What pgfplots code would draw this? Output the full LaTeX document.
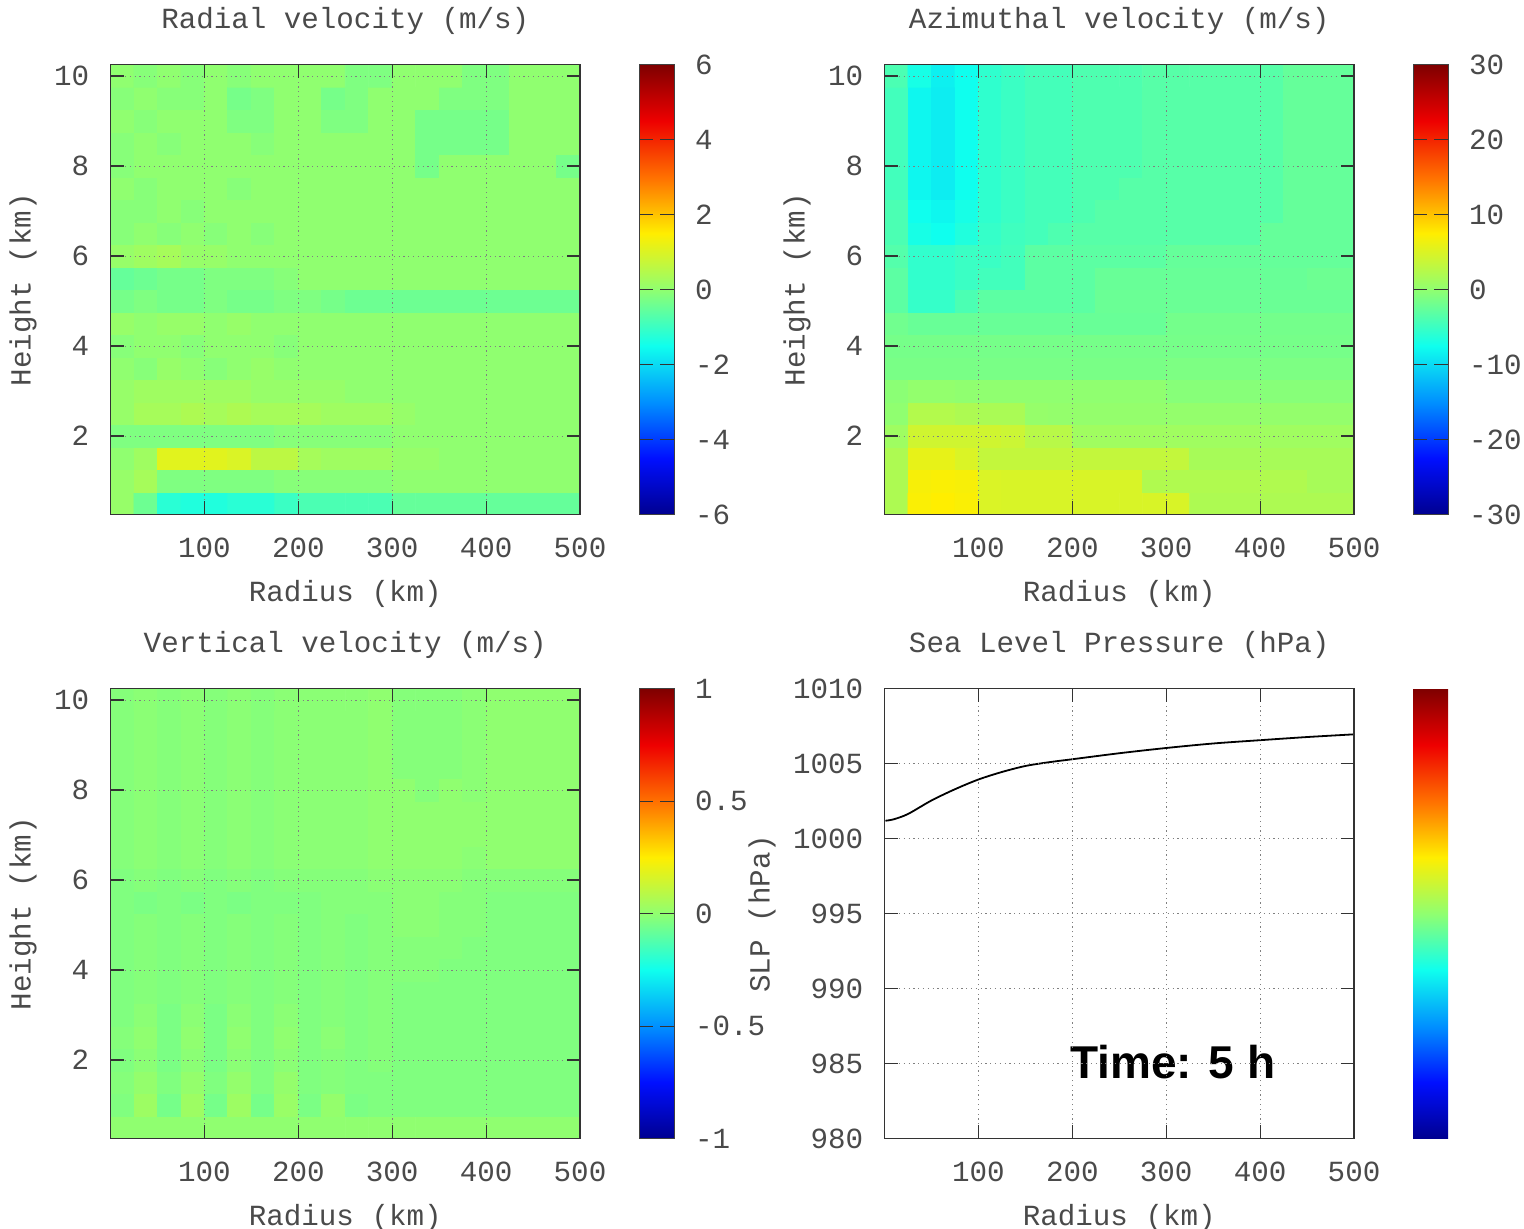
\documentclass[border=0pt]{standalone}
\usepackage{fontspec}
\setmainfont{Liberation Mono}
\newfontfamily\timefont{Liberation Sans}
\usepackage{pgfplots}
\pgfplotsset{compat=1.18}

\newcommand{\gfont}{\fontsize{14.6}{17}\selectfont}
\definecolor{txt}{HTML}{4A4A4A}

\pgfplotsset{
  colorbar/width=17.5pt,
  gnujet/.style={colormap={gnujet}{rgb255=(0,0,144) rgb255=(0,15,255) rgb255=(0,144,255)
    rgb255=(15,255,238) rgb255=(144,255,112) rgb255=(255,238,0) rgb255=(255,112,0)
    rgb255=(238,0,0) rgb255=(127,0,0)}},
  panel/.style={
    gnujet, scale only axis, width=234.75pt, height=225pt,
    anchor=south west, axis on top,
    xmin=0, xmax=500, xtick={100,200,300,400,500}, xticklabels={100,200,300,400,500},
    tick align=inside, xtick pos=both, ytick pos=both, major tick length=6.7pt,
    tick style={black!80, line width=0.6pt},
    axis line style={black!80, line width=0.6pt},
    grid=major, grid style={black!50, line width=0.45pt, dash pattern=on 0.6pt off 1.8pt},
    tick label style={font=\gfont, text=txt, inner sep=0pt},
    xticklabel style={anchor=center, yshift=-16.4pt},
    yticklabel style={anchor=east, xshift=-10.5pt},
    label style={font=\gfont, text=txt},
    title style={font=\gfont, text=txt, at={(axis description cs:0.5,1.0713)}, anchor=center},
    xlabel style={at={(axis description cs:0.5,-0.176)}, anchor=center},
    ylabel style={at={(axis description cs:-0.1864,0.5)}, anchor=center},
    xlabel={Radius (km)},
  },
  cbar/.style={
    at={(parent axis.north east)}, anchor=north west, xshift=21pt,
    scale only axis, width=17.5pt, height=225pt,
    enlargelimits=false, xmin=0, xmax=1,
    tick align=inside, ytick pos=both, yticklabel pos=right,
    major tick length=7pt, tick style={black!80, line width=0.6pt},
    axis line style={black!75, line width=0.5pt},
    yticklabel style={font=\gfont, text=txt, inner sep=0pt, anchor=west, xshift=10.3pt},
  },
  heat/.style={
    panel, ymin=0.25, ymax=10.25, ytick={2,4,6,8,10}, yticklabels={2,4,6,8,10},
    ylabel={Height (km)}, colorbar,
  },
}

\begin{document}
\begin{tikzpicture}
\path[use as bounding box] (0,0) rectangle (762pt,614.5pt);

% Radial velocity
\begin{axis}[heat, at={(55.25pt,357.125pt)}, title={Radial velocity (m/s)},
  point meta min=-6, point meta max=6,
  colorbar style={cbar, ytick={-6,-4,-2,0,2,4,6}, yticklabels={-6,-4,-2,0,2,4,6}}]
\addplot[matrix plot*, mesh/cols=20, point meta=explicit] coordinates {
(12.5,0.5)[0.1] (37.5,0.5)[-0.4] (62.5,0.5)[-1.2] (87.5,0.5)[-1.3] (112.5,0.5)[-1.3] (137.5,0.5)[-1.2] (162.5,0.5)[-1.2] (187.5,0.5)[-1.0] (212.5,0.5)[-0.8] (237.5,0.5)[-0.8] (262.5,0.5)[-0.8] (287.5,0.5)[-0.8] (312.5,0.5)[-0.5] (337.5,0.5)[-0.5] (362.5,0.5)[-0.5] (387.5,0.5)[-0.5] (412.5,0.5)[-0.5] (437.5,0.5)[-0.5] (462.5,0.5)[-0.5] (487.5,0.5)[-0.5]
(12.5,1)[0.1] (37.5,1)[0.3] (62.5,1)[-0.2] (87.5,1)[-0.2] (112.5,1)[-0.2] (137.5,1)[-0.2] (162.5,1)[-0.2] (187.5,1)[-0.1] (212.5,1)[-0.1] (237.5,1)[-0.1] (262.5,1)[-0.1] (287.5,1)[-0.1] (312.5,1)[0] (337.5,1)[0] (362.5,1)[0] (387.5,1)[0] (412.5,1)[0] (437.5,1)[0] (462.5,1)[0] (487.5,1)[0]
(12.5,1.5)[0] (37.5,1.5)[0.2] (62.5,1.5)[1.1] (87.5,1.5)[1.1] (112.5,1.5)[1.1] (137.5,1.5)[1.0] (162.5,1.5)[0.6] (187.5,1.5)[0.6] (212.5,1.5)[0.3] (237.5,1.5)[0.2] (262.5,1.5)[0.2] (287.5,1.5)[0.2] (312.5,1.5)[0.1] (337.5,1.5)[0.1] (362.5,1.5)[0] (387.5,1.5)[0] (412.5,1.5)[0] (437.5,1.5)[0] (462.5,1.5)[0] (487.5,1.5)[0]
(12.5,2)[-0.2] (37.5,2)[-0.2] (62.5,2)[-0.2] (87.5,2)[-0.2] (112.5,2)[-0.2] (137.5,2)[-0.2] (162.5,2)[-0.2] (187.5,2)[-0.1] (212.5,2)[-0.1] (237.5,2)[-0.1] (262.5,2)[-0.1] (287.5,2)[-0.1] (312.5,2)[0] (337.5,2)[0] (362.5,2)[0] (387.5,2)[0] (412.5,2)[0] (437.5,2)[0] (462.5,2)[0] (487.5,2)[0]
(12.5,2.5)[0.1] (37.5,2.5)[0.3] (62.5,2.5)[0.3] (87.5,2.5)[0.4] (112.5,2.5)[0.3] (137.5,2.5)[0.4] (162.5,2.5)[0.3] (187.5,2.5)[0.3] (212.5,2.5)[0.3] (237.5,2.5)[0.2] (262.5,2.5)[0.2] (287.5,2.5)[0.2] (312.5,2.5)[0.1] (337.5,2.5)[0] (362.5,2.5)[0] (387.5,2.5)[0] (412.5,2.5)[0] (437.5,2.5)[0] (462.5,2.5)[0] (487.5,2.5)[0]
(12.5,3)[0.1] (37.5,3)[0.2] (62.5,3)[0.2] (87.5,3)[0.2] (112.5,3)[0.2] (137.5,3)[0.2] (162.5,3)[0.1] (187.5,3)[0.1] (212.5,3)[0.1] (237.5,3)[0.1] (262.5,3)[0] (287.5,3)[0] (312.5,3)[0] (337.5,3)[0] (362.5,3)[0] (387.5,3)[0] (412.5,3)[0] (437.5,3)[0] (462.5,3)[0] (487.5,3)[0]
(12.5,3.5)[0] (37.5,3.5)[-0.1] (62.5,3.5)[0.1] (87.5,3.5)[0] (112.5,3.5)[-0.1] (137.5,3.5)[0] (162.5,3.5)[0.1] (187.5,3.5)[0] (212.5,3.5)[0] (237.5,3.5)[0] (262.5,3.5)[0] (287.5,3.5)[0] (312.5,3.5)[0] (337.5,3.5)[0] (362.5,3.5)[0] (387.5,3.5)[0] (412.5,3.5)[0] (437.5,3.5)[0] (462.5,3.5)[0] (487.5,3.5)[0]
(12.5,4)[-0.1] (37.5,4)[0] (62.5,4)[0] (87.5,4)[-0.1] (112.5,4)[0] (137.5,4)[0] (162.5,4)[0] (187.5,4)[-0.1] (212.5,4)[0] (237.5,4)[0] (262.5,4)[0] (287.5,4)[0] (312.5,4)[0] (337.5,4)[0] (362.5,4)[0] (387.5,4)[0] (412.5,4)[0] (437.5,4)[0] (462.5,4)[0] (487.5,4)[0]
(12.5,4.5)[0.1] (37.5,4.5)[0] (62.5,4.5)[0.1] (87.5,4.5)[0.1] (112.5,4.5)[0] (137.5,4.5)[0.1] (162.5,4.5)[0] (187.5,4.5)[0] (212.5,4.5)[0] (237.5,4.5)[0] (262.5,4.5)[0] (287.5,4.5)[0] (312.5,4.5)[0] (337.5,4.5)[0] (362.5,4.5)[0] (387.5,4.5)[0] (412.5,4.5)[0] (437.5,4.5)[0] (462.5,4.5)[0] (487.5,4.5)[0]
(12.5,5)[-0.3] (37.5,5)[-0.2] (62.5,5)[-0.3] (87.5,5)[-0.3] (112.5,5)[-0.2] (137.5,5)[-0.3] (162.5,5)[-0.3] (187.5,5)[-0.2] (212.5,5)[-0.2] (237.5,5)[-0.3] (262.5,5)[-0.4] (287.5,5)[-0.4] (312.5,5)[-0.4] (337.5,5)[-0.4] (362.5,5)[-0.4] (387.5,5)[-0.4] (412.5,5)[-0.4] (437.5,5)[-0.4] (462.5,5)[-0.4] (487.5,5)[-0.4]
(12.5,5.5)[-0.5] (37.5,5.5)[-0.4] (62.5,5.5)[-0.3] (87.5,5.5)[-0.3] (112.5,5.5)[-0.2] (137.5,5.5)[-0.2] (162.5,5.5)[-0.2] (187.5,5.5)[-0.1] (212.5,5.5)[0] (237.5,5.5)[0] (262.5,5.5)[0] (287.5,5.5)[0] (312.5,5.5)[0] (337.5,5.5)[0] (362.5,5.5)[0] (387.5,5.5)[0] (412.5,5.5)[0] (437.5,5.5)[0] (462.5,5.5)[0] (487.5,5.5)[0]
(12.5,6)[0.1] (37.5,6)[0.2] (62.5,6)[0.3] (87.5,6)[0.1] (112.5,6)[0.1] (137.5,6)[0] (162.5,6)[0] (187.5,6)[0] (212.5,6)[0] (237.5,6)[0] (262.5,6)[0] (287.5,6)[0] (312.5,6)[0] (337.5,6)[0] (362.5,6)[0] (387.5,6)[0] (412.5,6)[0] (437.5,6)[0] (462.5,6)[0] (487.5,6)[0]
(12.5,6.5)[-0.1] (37.5,6.5)[0] (62.5,6.5)[-0.1] (87.5,6.5)[0] (112.5,6.5)[-0.1] (137.5,6.5)[0] (162.5,6.5)[-0.1] (187.5,6.5)[0] (212.5,6.5)[0] (237.5,6.5)[0] (262.5,6.5)[0] (287.5,6.5)[0] (312.5,6.5)[0] (337.5,6.5)[0] (362.5,6.5)[0] (387.5,6.5)[0] (412.5,6.5)[0] (437.5,6.5)[0] (462.5,6.5)[0] (487.5,6.5)[0]
(12.5,7)[-0.1] (37.5,7)[-0.1] (62.5,7)[0] (87.5,7)[-0.1] (112.5,7)[0] (137.5,7)[0] (162.5,7)[0] (187.5,7)[0] (212.5,7)[0] (237.5,7)[0] (262.5,7)[0] (287.5,7)[0] (312.5,7)[0] (337.5,7)[0] (362.5,7)[0] (387.5,7)[0] (412.5,7)[0] (437.5,7)[0] (462.5,7)[0] (487.5,7)[0]
(12.5,7.5)[0] (37.5,7.5)[-0.1] (62.5,7.5)[0] (87.5,7.5)[0] (112.5,7.5)[0] (137.5,7.5)[-0.1] (162.5,7.5)[0] (187.5,7.5)[0] (212.5,7.5)[0] (237.5,7.5)[0] (262.5,7.5)[0] (287.5,7.5)[0] (312.5,7.5)[0] (337.5,7.5)[0] (362.5,7.5)[0] (387.5,7.5)[0] (412.5,7.5)[0] (437.5,7.5)[0] (462.5,7.5)[0] (487.5,7.5)[0]
(12.5,8)[-0.1] (37.5,8)[0] (62.5,8)[0] (87.5,8)[0] (112.5,8)[0] (137.5,8)[0] (162.5,8)[0] (187.5,8)[0] (212.5,8)[0] (237.5,8)[0] (262.5,8)[0] (287.5,8)[0] (312.5,8)[0] (337.5,8)[-0.3] (362.5,8)[0] (387.5,8)[0] (412.5,8)[0] (437.5,8)[0] (462.5,8)[0] (487.5,8)[-0.3]
(12.5,8.5)[-0.1] (37.5,8.5)[0] (62.5,8.5)[-0.1] (87.5,8.5)[0] (112.5,8.5)[0] (137.5,8.5)[0] (162.5,8.5)[-0.1] (187.5,8.5)[0] (212.5,8.5)[0] (237.5,8.5)[0] (262.5,8.5)[0] (287.5,8.5)[0] (312.5,8.5)[0] (337.5,8.5)[-0.3] (362.5,8.5)[-0.3] (387.5,8.5)[-0.3] (412.5,8.5)[-0.3] (437.5,8.5)[0] (462.5,8.5)[0] (487.5,8.5)[0]
(12.5,9)[0] (37.5,9)[-0.1] (62.5,9)[0] (87.5,9)[0] (112.5,9)[0] (137.5,9)[-0.2] (162.5,9)[-0.2] (187.5,9)[0] (212.5,9)[0] (237.5,9)[-0.2] (262.5,9)[-0.2] (287.5,9)[0] (312.5,9)[0] (337.5,9)[-0.3] (362.5,9)[-0.3] (387.5,9)[-0.3] (412.5,9)[-0.3] (437.5,9)[0] (462.5,9)[0] (487.5,9)[0]
(12.5,9.5)[-0.1] (37.5,9.5)[0] (62.5,9.5)[-0.1] (87.5,9.5)[-0.1] (112.5,9.5)[0] (137.5,9.5)[-0.3] (162.5,9.5)[-0.2] (187.5,9.5)[0] (212.5,9.5)[0] (237.5,9.5)[-0.3] (262.5,9.5)[-0.2] (287.5,9.5)[0] (312.5,9.5)[0] (337.5,9.5)[0] (362.5,9.5)[-0.2] (387.5,9.5)[-0.2] (412.5,9.5)[-0.2] (437.5,9.5)[0] (462.5,9.5)[0] (487.5,9.5)[0]
(12.5,10)[0] (37.5,10)[-0.1] (62.5,10)[0] (87.5,10)[-0.1] (112.5,10)[0] (137.5,10)[-0.1] (162.5,10)[0] (187.5,10)[0] (212.5,10)[0] (237.5,10)[0] (262.5,10)[-0.2] (287.5,10)[-0.2] (312.5,10)[0] (337.5,10)[0] (362.5,10)[0] (387.5,10)[-0.2] (412.5,10)[-0.2] (437.5,10)[0] (462.5,10)[0] (487.5,10)[0]
};
\end{axis}

% Azimuthal velocity
\begin{axis}[heat, at={(442.25pt,357.125pt)}, title={Azimuthal velocity (m/s)},
  point meta min=-30, point meta max=30,
  colorbar style={cbar, ytick={-30,-20,-10,0,10,20,30}, yticklabels={-30,-20,-10,0,10,20,30}}]
\addplot[matrix plot*, mesh/cols=20, point meta=explicit] coordinates {
(12.5,0.5)[2] (37.5,0.5)[7.2] (62.5,0.5)[7.5] (87.5,0.5)[7.2] (112.5,0.5)[5] (137.5,0.5)[4.9] (162.5,0.5)[4.9] (187.5,0.5)[4.9] (212.5,0.5)[4.9] (237.5,0.5)[4.9] (262.5,0.5)[4.9] (287.5,0.5)[4.9] (312.5,0.5)[4.9] (337.5,0.5)[2] (362.5,0.5)[2] (387.5,0.5)[2] (412.5,0.5)[2] (437.5,0.5)[2] (462.5,0.5)[2] (487.5,0.5)[2]
(12.5,1)[2] (37.5,1)[7] (62.5,1)[7.2] (87.5,1)[7] (112.5,1)[5] (137.5,1)[4.9] (162.5,1)[4.9] (187.5,1)[4.9] (212.5,1)[4.9] (237.5,1)[4.9] (262.5,1)[4.9] (287.5,1)[2.2] (312.5,1)[2.2] (337.5,1)[2.2] (362.5,1)[2.2] (387.5,1)[2.2] (412.5,1)[2.2] (437.5,1)[2.2] (462.5,1)[1.6] (487.5,1)[1.6]
(12.5,1.5)[2] (37.5,1.5)[5.9] (62.5,1.5)[5.9] (87.5,1.5)[5] (112.5,1.5)[3.5] (137.5,1.5)[3.5] (162.5,1.5)[3.5] (187.5,1.5)[3.5] (212.5,1.5)[3.5] (237.5,1.5)[3.5] (262.5,1.5)[3.5] (287.5,1.5)[3.5] (312.5,1.5)[3.5] (337.5,1.5)[1.6] (362.5,1.5)[1.6] (387.5,1.5)[1.6] (412.5,1.5)[1.6] (437.5,1.5)[1.6] (462.5,1.5)[1.6] (487.5,1.5)[1.6]
(12.5,2)[1] (37.5,2)[4.3] (62.5,2)[4.3] (87.5,2)[4.3] (112.5,2)[4.3] (137.5,2)[4] (162.5,2)[2.7] (187.5,2)[2.7] (212.5,2)[1.1] (237.5,2)[1.1] (262.5,2)[1.1] (287.5,2)[1.1] (312.5,2)[1.1] (337.5,2)[1.1] (362.5,2)[1.1] (387.5,2)[1.1] (412.5,2)[1.1] (437.5,2)[1.1] (462.5,2)[1.1] (487.5,2)[1.1]
(12.5,2.5)[0] (37.5,2.5)[2.4] (62.5,2.5)[2.4] (87.5,2.5)[2] (112.5,2.5)[1.8] (137.5,2.5)[1.8] (162.5,2.5)[0.4] (187.5,2.5)[0.3] (212.5,2.5)[0.3] (237.5,2.5)[0.3] (262.5,2.5)[0.3] (287.5,2.5)[0.3] (312.5,2.5)[0.3] (337.5,2.5)[0.3] (362.5,2.5)[0.3] (387.5,2.5)[0.3] (412.5,2.5)[0.3] (437.5,2.5)[0.3] (462.5,2.5)[0.3] (487.5,2.5)[0.3]
(12.5,3)[-0.3] (37.5,3)[0.2] (62.5,3)[0.2] (87.5,3)[0] (112.5,3)[0] (137.5,3)[0] (162.5,3)[0] (187.5,3)[0] (212.5,3)[0] (237.5,3)[0] (262.5,3)[0] (287.5,3)[0] (312.5,3)[-0.5] (337.5,3)[-0.5] (362.5,3)[-0.5] (387.5,3)[-0.5] (412.5,3)[-0.5] (437.5,3)[-0.5] (462.5,3)[-0.5] (487.5,3)[-0.5]
(12.5,3.5)[-1.3] (37.5,3.5)[-1.3] (62.5,3.5)[-1.3] (87.5,3.5)[-1.3] (112.5,3.5)[-1.3] (137.5,3.5)[-1.3] (162.5,3.5)[-1.3] (187.5,3.5)[-1.3] (212.5,3.5)[-1.3] (237.5,3.5)[-1.3] (262.5,3.5)[-1.3] (287.5,3.5)[-1.3] (312.5,3.5)[-1.1] (337.5,3.5)[-1.1] (362.5,3.5)[-1.1] (387.5,3.5)[-1.1] (412.5,3.5)[-1.1] (437.5,3.5)[-1.1] (462.5,3.5)[-1.1] (487.5,3.5)[-1.1]
(12.5,4)[-1.5] (37.5,4)[-1.5] (62.5,4)[-1.5] (87.5,4)[-1.5] (112.5,4)[-1.5] (137.5,4)[-1.5] (162.5,4)[-1.5] (187.5,4)[-1.5] (212.5,4)[-1.5] (237.5,4)[-1.5] (262.5,4)[-1.5] (287.5,4)[-1.5] (312.5,4)[-1.5] (337.5,4)[-1.5] (362.5,4)[-1.5] (387.5,4)[-1.5] (412.5,4)[-1.5] (437.5,4)[-1.5] (462.5,4)[-1.5] (487.5,4)[-1.5]
(12.5,4.5)[-1.8] (37.5,4.5)[-2.3] (62.5,4.5)[-2.3] (87.5,4.5)[-2.3] (112.5,4.5)[-2.3] (137.5,4.5)[-2.3] (162.5,4.5)[-2.3] (187.5,4.5)[-2.3] (212.5,4.5)[-2.3] (237.5,4.5)[-2.3] (262.5,4.5)[-2.3] (287.5,4.5)[-2.3] (312.5,4.5)[-1.6] (337.5,4.5)[-1.6] (362.5,4.5)[-1.6] (387.5,4.5)[-1.6] (412.5,4.5)[-1.6] (437.5,4.5)[-1.6] (462.5,4.5)[-1.6] (487.5,4.5)[-1.6]
(12.5,5)[-3] (37.5,5)[-5.3] (62.5,5)[-5.3] (87.5,5)[-4] (112.5,5)[-3] (137.5,5)[-3] (162.5,5)[-3] (187.5,5)[-3] (212.5,5)[-3] (237.5,5)[-2.2] (262.5,5)[-2.2] (287.5,5)[-2.2] (312.5,5)[-2.2] (337.5,5)[-2.2] (362.5,5)[-2.2] (387.5,5)[-2.2] (412.5,5)[-2.2] (437.5,5)[-2.2] (462.5,5)[-2.2] (487.5,5)[-2.2]
(12.5,5.5)[-3] (37.5,5.5)[-5.5] (62.5,5.5)[-5.5] (87.5,5.5)[-5] (112.5,5.5)[-4.5] (137.5,5.5)[-4.5] (162.5,5.5)[-3] (187.5,5.5)[-3] (212.5,5.5)[-3] (237.5,5.5)[-2.3] (262.5,5.5)[-2.3] (287.5,5.5)[-2.3] (312.5,5.5)[-2.3] (337.5,5.5)[-2.3] (362.5,5.5)[-2.3] (387.5,5.5)[-2.3] (412.5,5.5)[-2.3] (437.5,5.5)[-2.3] (462.5,5.5)[-2] (487.5,5.5)[-2]
(12.5,6)[-3.5] (37.5,6)[-5.5] (62.5,6)[-5.5] (87.5,6)[-5] (112.5,6)[-5] (137.5,6)[-4.5] (162.5,6)[-3] (187.5,6)[-3] (212.5,6)[-3] (237.5,6)[-3] (262.5,6)[-3] (287.5,6)[-3] (312.5,6)[-2.5] (337.5,6)[-2.5] (362.5,6)[-2.5] (387.5,6)[-2.5] (412.5,6)[-2.5] (437.5,6)[-2.5] (462.5,6)[-2.5] (487.5,6)[-2.5]
(12.5,6.5)[-4] (37.5,6.5)[-7] (62.5,6.5)[-7.5] (87.5,6.5)[-6.5] (112.5,6.5)[-5.3] (137.5,6.5)[-4.7] (162.5,6.5)[-4.4] (187.5,6.5)[-3.8] (212.5,6.5)[-3.3] (237.5,6.5)[-3.3] (262.5,6.5)[-3.3] (287.5,6.5)[-3.3] (312.5,6.5)[-3.3] (337.5,6.5)[-3.3] (362.5,6.5)[-3.3] (387.5,6.5)[-3.3] (412.5,6.5)[-2.5] (437.5,6.5)[-2.5] (462.5,6.5)[-2.5] (487.5,6.5)[-2.5]
(12.5,7)[-4] (37.5,7)[-7.5] (62.5,7)[-8] (87.5,7)[-7] (112.5,7)[-5.6] (137.5,7)[-5] (162.5,7)[-4.4] (187.5,7)[-4.4] (212.5,7)[-3.8] (237.5,7)[-3.3] (262.5,7)[-3.3] (287.5,7)[-3.3] (312.5,7)[-3.3] (337.5,7)[-3.3] (362.5,7)[-3.3] (387.5,7)[-3.3] (412.5,7)[-3.3] (437.5,7)[-2.5] (462.5,7)[-2.5] (487.5,7)[-2.5]
(12.5,7.5)[-4.5] (37.5,7.5)[-8] (62.5,7.5)[-8.7] (87.5,7.5)[-7.5] (112.5,7.5)[-5.6] (137.5,7.5)[-5] (162.5,7.5)[-4.4] (187.5,7.5)[-4.4] (212.5,7.5)[-3.8] (237.5,7.5)[-3.8] (262.5,7.5)[-3.3] (287.5,7.5)[-3.3] (312.5,7.5)[-3.3] (337.5,7.5)[-3.3] (362.5,7.5)[-3.3] (387.5,7.5)[-3.3] (412.5,7.5)[-3.3] (437.5,7.5)[-2.5] (462.5,7.5)[-2.5] (487.5,7.5)[-2.5]
(12.5,8)[-4.5] (37.5,8)[-8] (62.5,8)[-8.7] (87.5,8)[-7.5] (112.5,8)[-5.6] (137.5,8)[-5] (162.5,8)[-4.4] (187.5,8)[-4.4] (212.5,8)[-3.8] (237.5,8)[-3.8] (262.5,8)[-3.8] (287.5,8)[-3.3] (312.5,8)[-3.3] (337.5,8)[-3.3] (362.5,8)[-3.3] (387.5,8)[-3.3] (412.5,8)[-3.3] (437.5,8)[-2.5] (462.5,8)[-2.5] (487.5,8)[-2.5]
(12.5,8.5)[-4.5] (37.5,8.5)[-8] (62.5,8.5)[-8.7] (87.5,8.5)[-7.5] (112.5,8.5)[-5.6] (137.5,8.5)[-5] (162.5,8.5)[-4.4] (187.5,8.5)[-4.4] (212.5,8.5)[-3.8] (237.5,8.5)[-3.8] (262.5,8.5)[-3.8] (287.5,8.5)[-3.3] (312.5,8.5)[-3.3] (337.5,8.5)[-3.3] (362.5,8.5)[-3.3] (387.5,8.5)[-3.3] (412.5,8.5)[-3.3] (437.5,8.5)[-2.5] (462.5,8.5)[-2.5] (487.5,8.5)[-2.5]
(12.5,9)[-4.5] (37.5,9)[-8] (62.5,9)[-8.7] (87.5,9)[-7.5] (112.5,9)[-5.6] (137.5,9)[-5] (162.5,9)[-4.4] (187.5,9)[-4.4] (212.5,9)[-3.8] (237.5,9)[-3.8] (262.5,9)[-3.8] (287.5,9)[-3.3] (312.5,9)[-3.3] (337.5,9)[-3.3] (362.5,9)[-3.3] (387.5,9)[-3.3] (412.5,9)[-3.3] (437.5,9)[-2.5] (462.5,9)[-2.5] (487.5,9)[-2.5]
(12.5,9.5)[-4.5] (37.5,9.5)[-8] (62.5,9.5)[-8.7] (87.5,9.5)[-7.5] (112.5,9.5)[-5.6] (137.5,9.5)[-5] (162.5,9.5)[-4.4] (187.5,9.5)[-4.4] (212.5,9.5)[-3.8] (237.5,9.5)[-3.8] (262.5,9.5)[-3.8] (287.5,9.5)[-3.3] (312.5,9.5)[-3.3] (337.5,9.5)[-3.3] (362.5,9.5)[-3.3] (387.5,9.5)[-3.3] (412.5,9.5)[-3.3] (437.5,9.5)[-2.5] (462.5,9.5)[-2.5] (487.5,9.5)[-2.5]
(12.5,10)[-4] (37.5,10)[-7] (62.5,10)[-8.5] (87.5,10)[-7.5] (112.5,10)[-5.6] (137.5,10)[-5] (162.5,10)[-4.4] (187.5,10)[-4.4] (212.5,10)[-3.8] (237.5,10)[-3.8] (262.5,10)[-3.8] (287.5,10)[-3.3] (312.5,10)[-3.3] (337.5,10)[-3.3] (362.5,10)[-3.3] (387.5,10)[-3.3] (412.5,10)[-3.3] (437.5,10)[-2.5] (462.5,10)[-2.5] (487.5,10)[-2.5]
};
\end{axis}

% Vertical velocity
\begin{axis}[heat, at={(55.25pt,45.125pt)}, title={Vertical velocity (m/s)},
  point meta min=-1, point meta max=1,
  colorbar style={cbar, ytick={-1,-0.5,0,0.5,1}, yticklabels={-1,-0.5,0,0.5,1}}]
\addplot[matrix plot*, mesh/cols=20, point meta=explicit] coordinates {
(12.5,0.5)[0] (37.5,0.5)[0] (62.5,0.5)[0] (87.5,0.5)[0] (112.5,0.5)[0] (137.5,0.5)[0] (162.5,0.5)[0] (187.5,0.5)[0] (212.5,0.5)[0] (237.5,0.5)[0] (262.5,0.5)[0] (287.5,0.5)[0] (312.5,0.5)[0] (337.5,0.5)[0] (362.5,0.5)[0] (387.5,0.5)[0] (412.5,0.5)[0] (437.5,0.5)[0] (462.5,0.5)[0] (487.5,0.5)[0]
(12.5,1)[-0.03] (37.5,1)[0.03] (62.5,1)[-0.05] (87.5,1)[0.03] (112.5,1)[-0.05] (137.5,1)[0.03] (162.5,1)[-0.05] (187.5,1)[0.02] (212.5,1)[-0.04] (237.5,1)[0.01] (262.5,1)[-0.04] (287.5,1)[-0.03] (312.5,1)[-0.03] (337.5,1)[-0.03] (362.5,1)[-0.03] (387.5,1)[-0.03] (412.5,1)[-0.03] (437.5,1)[-0.03] (462.5,1)[-0.03] (487.5,1)[-0.03]
(12.5,1.5)[-0.02] (37.5,1.5)[0.01] (62.5,1.5)[-0.03] (87.5,1.5)[0.01] (112.5,1.5)[-0.03] (137.5,1.5)[0.01] (162.5,1.5)[-0.03] (187.5,1.5)[0.01] (212.5,1.5)[-0.03] (237.5,1.5)[-0.02] (262.5,1.5)[-0.03] (287.5,1.5)[-0.03] (312.5,1.5)[-0.03] (337.5,1.5)[-0.03] (362.5,1.5)[-0.03] (387.5,1.5)[-0.03] (412.5,1.5)[-0.03] (437.5,1.5)[-0.03] (462.5,1.5)[-0.03] (487.5,1.5)[-0.03]
(12.5,2)[-0.03] (37.5,2)[-0.01] (62.5,2)[-0.04] (87.5,2)[-0.01] (112.5,2)[-0.04] (137.5,2)[-0.01] (162.5,2)[-0.03] (187.5,2)[-0.01] (212.5,2)[-0.03] (237.5,2)[-0.02] (262.5,2)[-0.03] (287.5,2)[-0.02] (312.5,2)[-0.03] (337.5,2)[-0.03] (362.5,2)[-0.03] (387.5,2)[-0.03] (412.5,2)[-0.03] (437.5,2)[-0.03] (462.5,2)[-0.03] (487.5,2)[-0.03]
(12.5,2.5)[-0.02] (37.5,2.5)[0] (62.5,2.5)[-0.04] (87.5,2.5)[0] (112.5,2.5)[-0.04] (137.5,2.5)[0] (162.5,2.5)[-0.03] (187.5,2.5)[0] (212.5,2.5)[-0.03] (237.5,2.5)[-0.01] (262.5,2.5)[-0.03] (287.5,2.5)[-0.02] (312.5,2.5)[-0.03] (337.5,2.5)[-0.03] (362.5,2.5)[-0.03] (387.5,2.5)[-0.03] (412.5,2.5)[-0.03] (437.5,2.5)[-0.03] (462.5,2.5)[-0.03] (487.5,2.5)[-0.03]
(12.5,3)[-0.03] (37.5,3)[-0.01] (62.5,3)[-0.04] (87.5,3)[-0.01] (112.5,3)[-0.04] (137.5,3)[-0.01] (162.5,3)[-0.03] (187.5,3)[-0.01] (212.5,3)[-0.03] (237.5,3)[-0.02] (262.5,3)[-0.03] (287.5,3)[-0.02] (312.5,3)[-0.03] (337.5,3)[-0.03] (362.5,3)[-0.03] (387.5,3)[-0.03] (412.5,3)[-0.03] (437.5,3)[-0.03] (462.5,3)[-0.03] (487.5,3)[-0.03]
(12.5,3.5)[-0.03] (37.5,3.5)[-0.02] (62.5,3.5)[-0.03] (87.5,3.5)[-0.02] (112.5,3.5)[-0.03] (137.5,3.5)[-0.02] (162.5,3.5)[-0.03] (187.5,3.5)[-0.02] (212.5,3.5)[-0.03] (237.5,3.5)[-0.02] (262.5,3.5)[-0.03] (287.5,3.5)[-0.02] (312.5,3.5)[-0.03] (337.5,3.5)[-0.03] (362.5,3.5)[-0.03] (387.5,3.5)[-0.03] (412.5,3.5)[-0.03] (437.5,3.5)[-0.03] (462.5,3.5)[-0.03] (487.5,3.5)[-0.03]
(12.5,4)[-0.03] (37.5,4)[-0.02] (62.5,4)[-0.03] (87.5,4)[-0.02] (112.5,4)[-0.03] (137.5,4)[-0.02] (162.5,4)[-0.03] (187.5,4)[-0.02] (212.5,4)[-0.03] (237.5,4)[-0.02] (262.5,4)[-0.03] (287.5,4)[-0.02] (312.5,4)[-0.02] (337.5,4)[-0.02] (362.5,4)[-0.03] (387.5,4)[-0.03] (412.5,4)[-0.03] (437.5,4)[-0.03] (462.5,4)[-0.03] (487.5,4)[-0.03]
(12.5,4.5)[-0.03] (37.5,4.5)[-0.02] (62.5,4.5)[-0.03] (87.5,4.5)[-0.02] (112.5,4.5)[-0.03] (137.5,4.5)[-0.02] (162.5,4.5)[-0.03] (187.5,4.5)[-0.02] (212.5,4.5)[-0.03] (237.5,4.5)[-0.02] (262.5,4.5)[-0.03] (287.5,4.5)[-0.02] (312.5,4.5)[-0.02] (337.5,4.5)[-0.02] (362.5,4.5)[-0.02] (387.5,4.5)[-0.03] (412.5,4.5)[-0.03] (437.5,4.5)[-0.03] (462.5,4.5)[-0.03] (487.5,4.5)[-0.03]
(12.5,5)[-0.03] (37.5,5)[-0.02] (62.5,5)[-0.03] (87.5,5)[-0.02] (112.5,5)[-0.03] (137.5,5)[-0.02] (162.5,5)[-0.03] (187.5,5)[-0.02] (212.5,5)[-0.03] (237.5,5)[-0.02] (262.5,5)[-0.03] (287.5,5)[-0.02] (312.5,5)[-0.01] (337.5,5)[-0.01] (362.5,5)[-0.02] (387.5,5)[-0.02] (412.5,5)[-0.03] (437.5,5)[-0.03] (462.5,5)[-0.03] (487.5,5)[-0.03]
(12.5,5.5)[-0.03] (37.5,5.5)[-0.04] (62.5,5.5)[-0.03] (87.5,5.5)[-0.04] (112.5,5.5)[-0.03] (137.5,5.5)[-0.04] (162.5,5.5)[-0.03] (187.5,5.5)[-0.03] (212.5,5.5)[-0.03] (237.5,5.5)[-0.02] (262.5,5.5)[-0.02] (287.5,5.5)[-0.02] (312.5,5.5)[-0.01] (337.5,5.5)[-0.01] (362.5,5.5)[-0.02] (387.5,5.5)[-0.02] (412.5,5.5)[-0.03] (437.5,5.5)[-0.03] (462.5,5.5)[-0.03] (487.5,5.5)[-0.03]
(12.5,6)[-0.03] (37.5,6)[-0.02] (62.5,6)[-0.03] (87.5,6)[-0.02] (112.5,6)[-0.03] (137.5,6)[-0.02] (162.5,6)[-0.03] (187.5,6)[-0.02] (212.5,6)[-0.02] (237.5,6)[-0.02] (262.5,6)[-0.02] (287.5,6)[-0.01] (312.5,6)[-0.01] (337.5,6)[-0.01] (362.5,6)[-0.01] (387.5,6)[-0.02] (412.5,6)[-0.02] (437.5,6)[-0.02] (462.5,6)[-0.02] (487.5,6)[-0.02]
(12.5,6.5)[-0.02] (37.5,6.5)[-0.01] (62.5,6.5)[-0.02] (87.5,6.5)[-0.01] (112.5,6.5)[-0.02] (137.5,6.5)[-0.01] (162.5,6.5)[-0.02] (187.5,6.5)[-0.01] (212.5,6.5)[-0.01] (237.5,6.5)[-0.01] (262.5,6.5)[-0.01] (287.5,6.5)[0] (312.5,6.5)[0] (337.5,6.5)[0] (362.5,6.5)[0] (387.5,6.5)[-0.01] (412.5,6.5)[0] (437.5,6.5)[0] (462.5,6.5)[0] (487.5,6.5)[0]
(12.5,7)[-0.02] (37.5,7)[-0.01] (62.5,7)[-0.02] (87.5,7)[-0.01] (112.5,7)[-0.02] (137.5,7)[-0.01] (162.5,7)[-0.02] (187.5,7)[-0.01] (212.5,7)[-0.01] (237.5,7)[-0.01] (262.5,7)[-0.01] (287.5,7)[0] (312.5,7)[0] (337.5,7)[0] (362.5,7)[0] (387.5,7)[0] (412.5,7)[0] (437.5,7)[0] (462.5,7)[0] (487.5,7)[0]
(12.5,7.5)[-0.02] (37.5,7.5)[-0.01] (62.5,7.5)[-0.02] (87.5,7.5)[-0.01] (112.5,7.5)[-0.02] (137.5,7.5)[-0.01] (162.5,7.5)[-0.02] (187.5,7.5)[-0.01] (212.5,7.5)[-0.01] (237.5,7.5)[-0.01] (262.5,7.5)[-0.01] (287.5,7.5)[0] (312.5,7.5)[0] (337.5,7.5)[0] (362.5,7.5)[0] (387.5,7.5)[0] (412.5,7.5)[0] (437.5,7.5)[0] (462.5,7.5)[0] (487.5,7.5)[0]
(12.5,8)[-0.02] (37.5,8)[-0.01] (62.5,8)[-0.02] (87.5,8)[-0.01] (112.5,8)[-0.02] (137.5,8)[-0.01] (162.5,8)[-0.02] (187.5,8)[-0.01] (212.5,8)[-0.01] (237.5,8)[-0.01] (262.5,8)[-0.01] (287.5,8)[0] (312.5,8)[0] (337.5,8)[-0.02] (362.5,8)[0] (387.5,8)[-0.01] (412.5,8)[0] (437.5,8)[0] (462.5,8)[0] (487.5,8)[0]
(12.5,8.5)[-0.02] (37.5,8.5)[-0.01] (62.5,8.5)[-0.02] (87.5,8.5)[-0.01] (112.5,8.5)[-0.02] (137.5,8.5)[-0.01] (162.5,8.5)[-0.02] (187.5,8.5)[-0.01] (212.5,8.5)[-0.01] (237.5,8.5)[-0.01] (262.5,8.5)[-0.01] (287.5,8.5)[0] (312.5,8.5)[-0.02] (337.5,8.5)[-0.02] (362.5,8.5)[-0.02] (387.5,8.5)[-0.01] (412.5,8.5)[0] (437.5,8.5)[0] (462.5,8.5)[0] (487.5,8.5)[0]
(12.5,9)[-0.02] (37.5,9)[-0.01] (62.5,9)[-0.02] (87.5,9)[-0.01] (112.5,9)[-0.02] (137.5,9)[-0.01] (162.5,9)[-0.02] (187.5,9)[-0.01] (212.5,9)[-0.01] (237.5,9)[-0.01] (262.5,9)[-0.01] (287.5,9)[0] (312.5,9)[-0.02] (337.5,9)[-0.02] (362.5,9)[-0.02] (387.5,9)[-0.01] (412.5,9)[0] (437.5,9)[0] (462.5,9)[0] (487.5,9)[0]
(12.5,9.5)[-0.02] (37.5,9.5)[-0.01] (62.5,9.5)[-0.02] (87.5,9.5)[-0.01] (112.5,9.5)[-0.02] (137.5,9.5)[-0.01] (162.5,9.5)[-0.02] (187.5,9.5)[-0.01] (212.5,9.5)[-0.01] (237.5,9.5)[-0.01] (262.5,9.5)[-0.01] (287.5,9.5)[0] (312.5,9.5)[-0.02] (337.5,9.5)[-0.02] (362.5,9.5)[-0.02] (387.5,9.5)[-0.01] (412.5,9.5)[0] (437.5,9.5)[0] (462.5,9.5)[0] (487.5,9.5)[0]
(12.5,10)[-0.02] (37.5,10)[-0.01] (62.5,10)[-0.02] (87.5,10)[-0.01] (112.5,10)[-0.02] (137.5,10)[-0.01] (162.5,10)[-0.02] (187.5,10)[-0.01] (212.5,10)[-0.01] (237.5,10)[-0.01] (262.5,10)[-0.01] (287.5,10)[0] (312.5,10)[-0.02] (337.5,10)[-0.02] (362.5,10)[-0.02] (387.5,10)[-0.01] (412.5,10)[0] (437.5,10)[0] (462.5,10)[0] (487.5,10)[0]
};
\end{axis}

% Sea level pressure
\begin{axis}[panel, at={(442.25pt,45.125pt)}, title={Sea Level Pressure (hPa)},
  ymin=980, ymax=1010, ytick={980,985,990,995,1000,1005,1010},
  yticklabels={980,985,990,995,1000,1005,1010},
  ylabel={SLP (hPa)}, ylabel style={at={(axis description cs:-0.2609,0.5)}},
  colorbar, point meta min=0, point meta max=1,
  colorbar style={cbar, ytick=\empty, axis line style={draw=none}}]
\addplot[black, line width=0.9pt, smooth] coordinates {
(1,1001.2) (10,1001.3) (25,1001.65) (50,1002.55) (75,1003.3) (100,1003.95)
(125,1004.45) (150,1004.85) (175,1005.1) (200,1005.3) (250,1005.7) (300,1006.05)
(350,1006.35) (400,1006.57) (450,1006.78) (500,1006.96)};
\node[font=\timefont\fontsize{23}{27}\selectfont\bfseries, anchor=center] at (axis cs:307,985.1) {Time: 5 h};
\end{axis}
\end{tikzpicture}
\end{document}
